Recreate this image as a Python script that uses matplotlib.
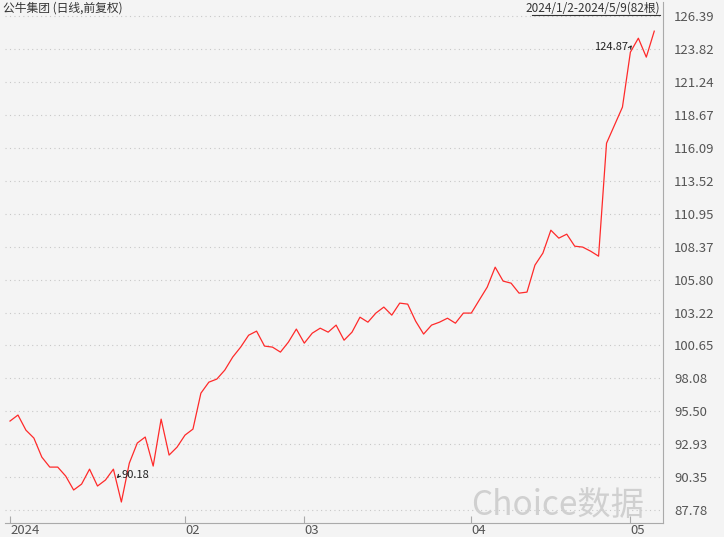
import matplotlib
matplotlib.use("Agg")
import matplotlib.pyplot as plt
import numpy as np

plt.rcParams['font.family'] = ['Noto Sans CJK SC', 'DejaVu Sans']

prices = [94.74, 95.21, 94.03, 93.41, 91.92, 91.14, 91.14, 90.44, 89.35, 89.81,
          90.98, 89.66, 90.13, 90.98, 88.41, 91.45, 93.02, 93.49, 91.22, 94.89,
          92.08, 92.70, 93.64, 94.11, 96.92, 97.78, 98.02, 98.72,
          99.74, 100.52, 101.45, 101.77, 100.60, 100.52, 100.13, 100.91, 101.93, 100.83,
          101.61, 102.00, 101.69, 102.24, 101.06, 101.69, 102.86, 102.47, 103.18, 103.65,
          103.02, 103.96, 103.88, 102.55, 101.54, 102.24, 102.47, 102.78, 102.39, 103.18,
          103.18, 104.20, 105.21, 106.77, 105.68, 105.52, 104.74, 104.82, 106.93, 107.87,
          109.66, 109.04, 109.35, 108.41, 108.34, 108.02, 107.63, 116.46, 117.87, 119.28,
          123.58, 124.67, 123.19, 125.22]
ytick_vals = [87.78, 90.35, 92.93, 95.50, 98.08, 100.65, 103.22, 105.80, 108.37,
              110.95, 113.52, 116.09, 118.67, 121.24, 123.82, 126.39]
month_pos = [0, 22, 37, 58, 78]
month_labels = ['2024', '02', '03', '04', '05']

fig = plt.figure(figsize=(7.24, 5.37), dpi=100)
fig.patch.set_facecolor('#f4f4f4')
ax = fig.add_axes([5/724, 1-523/537, (663-5)/724, 521/537])
ax.set_facecolor('#f4f4f4')
x = np.arange(len(prices))
ax.plot(x, prices, color='#ff2a2a', lw=0.9)
ax.set_xlim(-0.63, 82.1)
ax.set_ylim(86.77, 127.5)
ax.yaxis.tick_right()
ax.set_yticks(ytick_vals)
ax.set_yticklabels([f'{v:.2f}' for v in ytick_vals], color='#555555', fontsize=9.5)
ax.tick_params(axis='y', length=0, pad=8)
for v in ytick_vals:
    ax.axhline(v, color='#c8c8c8', lw=0.8, ls=(0, (1, 3)), zorder=0)
ax.set_xticks(month_pos)
ax.set_xticklabels(month_labels, color='#555555', fontsize=9.5, ha='left')
ax.tick_params(axis='x', length=5, direction='in', color='#aaaaaa', pad=1)
for s in ['top', 'left']:
    ax.spines[s].set_visible(False)
ax.spines['right'].set_color('#aaaaaa')
ax.spines['bottom'].set_color('#aaaaaa')

ax.annotate('', xy=(13.2, 90.1), xytext=(13.9, 90.6),
            arrowprops=dict(arrowstyle='->', color='#222222', lw=0.8, mutation_scale=5))
ax.text(14.0, 90.5, '90.18', fontsize=8, va='center', color='#222222')
ax.annotate('', xy=(78.4, 124.3), xytext=(77.8, 123.8),
            arrowprops=dict(arrowstyle='->', color='#222222', lw=0.8, mutation_scale=5))
ax.text(77.7, 124.0, '124.87', fontsize=8, va='center', ha='right', color='#222222')

fig.text(3/724, 1-8/537, '公牛集团 (日线,前复权)', fontsize=8.5, color='#333333', va='center')
fig.text(660/724, 1-8/537, '2024/1/2-2024/5/9(82根)', fontsize=8.5, color='#333333', va='center', ha='right')
fig.add_artist(plt.Line2D([532/724, 660/724], [1-15/537, 1-15/537], color='#333333', lw=0.8))
fig.text(644/724, 1-505/537, 'Choice数据', fontsize=24, color='#d0d0d0', ha='right', va='center')

fig.savefig('out.png', dpi=100, facecolor=fig.get_facecolor())
